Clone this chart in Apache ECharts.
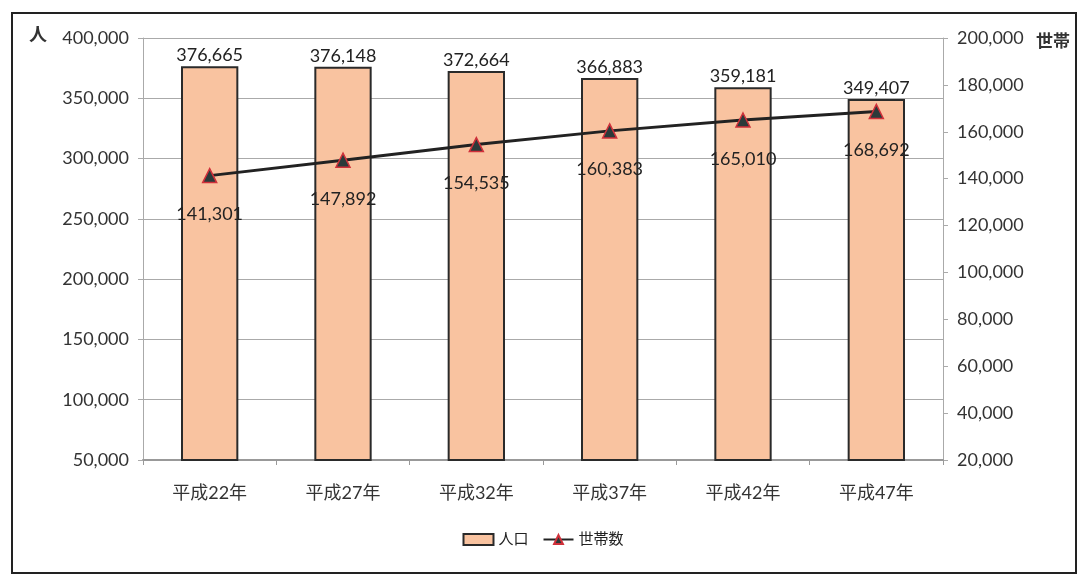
<!DOCTYPE html>
<html>
<head>
<meta charset="utf-8">
<script src="https://cdn.jsdelivr.net/npm/echarts@6/dist/echarts.min.js"></script>
<style>
  html, body { margin: 0; padding: 0; background: #fff; }
  #chart { width: 1086px; height: 578px; }
</style>
</head>
<body>
<div id="chart"></div>
<script>
// 年次（和暦）
const categories = ['平成22年', '平成27年', '平成32年', '平成37年', '平成42年', '平成47年'];
// 人口（人）
const population = [376665, 376148, 372664, 366883, 359181, 349407];
// 世帯数（世帯）
const households = [141301, 147892, 154535, 160383, 165010, 168692];

const FONT = "Lato, 'Noto Sans CJK JP', sans-serif";
const fmt = v => Number(v).toLocaleString('en-US');

const chart = echarts.init(document.getElementById('chart'));
chart.setOption({
  backgroundColor: '#fff',
  textStyle: { fontFamily: FONT },
  animation: false,
  grid: { left: 143, right: 143, top: 38, bottom: 118 },
  graphic: [
    { type: 'rect', shape: { x: 12, y: 13, width: 1064, height: 560 },
      style: { fill: 'none', stroke: '#222', lineWidth: 2 }, silent: true },
    { type: 'text', left: 29, top: 26,
      style: { text: '人', fontSize: 18, fontWeight: 'bold', fill: '#333', fontFamily: FONT } },
    { type: 'text', left: 1036, top: 33,
      style: { text: '世帯', fontSize: 17, fontWeight: 'bold', fill: '#333', fontFamily: FONT } }
  ],
  legend: {
    bottom: 26,
    left: 'center',
    itemGap: 14,
    itemWidth: 30,
    itemHeight: 11,
    textStyle: { fontSize: 15, color: '#222', fontFamily: FONT },
    data: [
      { name: '人口', icon: 'rect' },
      { name: '世帯数' }
    ]
  },
  xAxis: {
    type: 'category',
    data: categories,
    axisLine: { lineStyle: { color: '#999', width: 2 } },
    axisTick: { show: true, length: 5, lineStyle: { color: '#999' } },
    axisLabel: { fontSize: 18, color: '#333', margin: 24, fontFamily: FONT }
  },
  yAxis: [
    {
      type: 'value',
      min: 50000, max: 400000, interval: 50000,
      axisLine: { show: true, lineStyle: { color: '#aaa' } },
      axisTick: { show: true, length: 5, lineStyle: { color: '#aaa' } },
      splitLine: { lineStyle: { color: '#aaa' } },
      axisLabel: { fontSize: 18, color: '#333', margin: 14, formatter: fmt, fontFamily: FONT }
    },
    {
      type: 'value',
      min: 20000, max: 200000, interval: 20000,
      position: 'right',
      axisLine: { show: true, lineStyle: { color: '#aaa' } },
      axisTick: { show: true, length: 5, lineStyle: { color: '#aaa' } },
      splitLine: { show: false },
      axisLabel: { fontSize: 18, color: '#333', margin: 14, formatter: fmt, fontFamily: FONT }
    }
  ],
  series: [
    {
      name: '人口',
      type: 'bar',
      yAxisIndex: 0,
      data: population,
      barWidth: '43%',
      itemStyle: { color: '#F9C3A0', borderColor: '#2a2a2a', borderWidth: 2 },
      label: {
        show: true, position: 'top', distance: 2,
        fontSize: 18, color: '#222', formatter: p => fmt(p.value), fontFamily: FONT
      }
    },
    {
      name: '世帯数',
      type: 'line',
      yAxisIndex: 1,
      data: households,
      symbol: 'triangle',
      symbolSize: 14,
      lineStyle: { color: '#222', width: 3 },
      itemStyle: { color: '#2b3a3a', borderColor: '#d0303a', borderWidth: 1.5 },
      label: {
        show: true, position: 'bottom', distance: 22,
        fontSize: 18, color: '#222', formatter: p => fmt(p.value), fontFamily: FONT
      },
      z: 5
    }
  ]
});
</script>
</body>
</html>
